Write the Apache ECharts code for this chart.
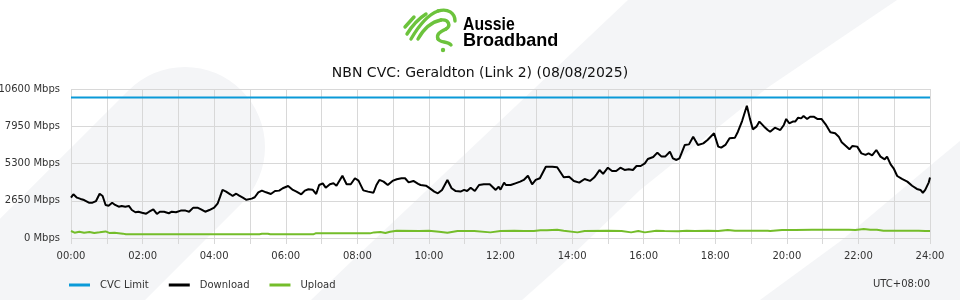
<!DOCTYPE html>
<html>
<head>
<meta charset="utf-8">
<script src="https://cdn.jsdelivr.net/npm/echarts@6/dist/echarts.min.js"></script>
<style>
html,body{margin:0;padding:0;background:#fff;}
#chart{width:960px;height:300px;}
</style>
</head>
<body>
<div id="chart"></div>
<script>
// ---- data (minutes after midnight, Mbps) ----
var titleText = 'NBN CVC: Geraldton (Link 2) (08/08/2025)';
var seriesNames = ['CVC Limit', 'Download', 'Upload'];
var xTickLabels = ['00:00','02:00','04:00','06:00','08:00','10:00','12:00','14:00','16:00','18:00','20:00','22:00','24:00'];
var yMax = 10600;
var yStep = 2650;
var cvcLimit = [[0, 10000], [1440, 10000]];
var download = [
 [0,2870],[4,3110],[10,2870],[16,2780],[22,2700],[30,2510],[36,2510],[42,2630],[48,3150],[53,2990],[58,2350],
 [63,2300],[69,2510],[74,2350],[80,2230],[85,2280],[91,2230],[97,2280],[102,1990],[108,1830],[113,1870],[119,1800],
 [126,1730],[131,1870],[138,2040],[144,1710],[149,1870],[156,1870],[164,1760],[169,1870],[176,1830],[184,1950],
 [192,1950],[198,1870],[205,2160],[212,2160],[218,2040],[225,1870],[232,1990],[240,2160],[246,2470],[250,2940],
 [254,3420],[260,3300],[267,3110],[271,2990],[277,3150],[282,3010],[288,2870],[294,2720],[303,2800],[308,2900],
 [314,3250],[320,3370],[327,3250],[335,3130],[342,3340],[349,3370],[355,3540],[364,3700],[372,3420],[378,3300],
 [386,3110],[392,3370],[398,3470],[405,3440],[411,3130],[416,3770],[422,3890],[427,3580],[434,3820],[440,3890],
 [445,3720],[455,4430],[462,3820],[469,3820],[476,4250],[482,4080],[490,3390],[498,3300],[507,3220],[512,3770],
 [517,4130],[524,4010],[531,3770],[539,4060],[546,4180],[554,4250],[560,4250],[566,3960],[574,4060],[582,3850],
 [586,3770],[595,3720],[600,3580],[609,3300],[615,3180],[622,3420],[631,4130],[638,3540],[645,3340],[653,3300],
 [659,3420],[664,3340],[670,3580],[677,3340],[684,3770],[692,3820],[702,3820],[712,3420],[717,3650],[720,3440],
 [726,3940],[729,3770],[737,3770],[745,3890],[753,4010],[759,4130],[766,4430],[773,3820],[779,4130],[786,4250],
 [796,5070],[807,5070],[815,5030],[826,4320],[835,4360],[843,4060],[852,3940],[861,4200],[870,4060],[877,4300],
 [881,4530],[886,4840],[892,4560],[900,5000],[907,4770],[914,4770],[921,5000],[928,4840],[935,4890],[942,4840],
 [948,5120],[955,5120],[962,5310],[967,5620],[976,5760],[983,6070],[990,5790],[996,5790],[1004,6140],[1009,5670],
 [1015,5550],[1020,5670],[1029,6620],[1036,6660],[1043,7210],[1051,6620],[1060,6730],[1067,6970],[1078,7450],
 [1085,6500],[1090,6430],[1097,6620],[1104,7090],[1113,7140],[1118,7560],[1125,8320],[1133,9410],[1138,8510],
 [1143,7730],[1149,7920],[1154,8280],[1162,7920],[1168,7680],[1172,7560],[1180,7850],[1183,7920],[1189,7680],
 [1195,8040],[1199,8470],[1204,8160],[1210,8280],[1214,8280],[1219,8560],[1224,8510],[1228,8680],[1234,8470],
 [1239,8630],[1245,8630],[1251,8470],[1258,8470],[1265,8090],[1273,7520],[1281,7450],[1287,7210],[1292,6810],
 [1299,6550],[1305,6310],[1310,6550],[1318,6500],[1325,6020],[1332,5910],[1337,6020],[1343,5880],[1350,6260],
 [1357,5790],[1364,5600],[1368,5790],[1374,5240],[1379,4960],[1385,4410],[1393,4200],[1402,4010],[1410,3720],
 [1418,3490],[1424,3420],[1428,3220],[1432,3420],[1438,3960],[1440,4300]
];
var upload = [
 [0,500],[6,380],[14,450],[22,380],[31,430],[39,360],[48,410],[58,470],[64,360],[73,380],[87,310],[92,260],
 [131,260],[134,300],[138,260],[316,260],[320,300],[330,300],[334,260],[406,260],[410,330],[501,330],[508,400],
 [519,420],[527,360],[535,450],[546,520],[584,500],[600,520],[617,450],[631,380],[648,500],[676,500],[703,400],
 [720,500],[743,520],[759,500],[776,500],[787,545],[798,545],[815,590],[826,520],[849,400],[861,500],[900,520],
 [923,500],[939,400],[951,500],[962,400],[981,520],[995,500],[1018,480],[1032,520],[1046,500],[1068,520],[1085,500],
 [1101,570],[1113,520],[1168,520],[1172,500],[1192,570],[1214,570],[1242,590],[1270,590],[1304,590],[1315,570],
 [1329,640],[1340,590],[1351,590],[1362,520],[1382,520],[1421,520],[1432,500],[1440,500]
];
var timezoneText = 'UTC+08:00';
var logoWords = ['Aussie', 'Broadband'];

// ---- chart ----
var bandColor = '#f4f5f7';
var logoGreen = '#6cc33c';
var chart = echarts.init(document.getElementById('chart'), null, {renderer: 'canvas'});
var font = 'DejaVu Sans';
function curve(x1, y1, cx1, cy1, cx2, cy2, x2, y2) {
  return {type: 'bezierCurve', z: 10, silent: true,
    shape: {x1: x1, y1: y1, cpx1: cx1, cpy1: cy1, cpx2: cx2, cpy2: cy2, x2: x2, y2: y2},
    style: {stroke: logoGreen, lineWidth: 3.4, lineCap: 'round', fill: null}};
}
chart.setOption({
  backgroundColor: '#ffffff',
  animation: false,
  textStyle: {fontFamily: font},
  title: {
    text: titleText, left: 'center', top: 61,
    textStyle: {fontFamily: font, fontSize: 14, fontWeight: 'normal', color: '#111'}
  },
  legend: {
    left: 64, top: 275, itemWidth: 21, itemHeight: 3, itemGap: 20, icon: 'rect',
    textStyle: {fontFamily: font, fontSize: 10, color: '#333', padding: [0, 0, 0, 5]},
    data: seriesNames
  },
  grid: {left: 71, right: 30, top: 89, bottom: 62, containLabel: false, outerBoundsMode: 'none'},
  xAxis: {
    type: 'value', min: 0, max: 1440, interval: 60,
    axisLine: {show: false},
    axisTick: {show: true, length: 6, lineStyle: {color: '#d8d8d8'}},
    splitLine: {show: true, lineStyle: {color: '#d8d8d8', width: 1}},
    axisLabel: {
      fontFamily: font, fontSize: 10, color: '#333', margin: 13,
      formatter: function (v) { return v % 120 === 0 ? xTickLabels[v / 120] : ''; }
    }
  },
  yAxis: {
    type: 'value', min: 0, max: yMax, interval: yStep,
    axisLine: {show: false},
    axisTick: {show: false},
    splitLine: {show: true, lineStyle: {color: '#d8d8d8', width: 1}},
    axisLabel: {fontFamily: font, fontSize: 10, color: '#333', margin: 11,
      formatter: function (v) { return v + ' Mbps'; }}
  },
  graphic: [
    {type: 'line', z: -100, silent: true, shape: {x1: -200, y1: 532, x2: 185, y2: 147},
     style: {stroke: bandColor, lineWidth: 160, lineCap: 'round'}},
    {type: 'polygon', z: -100, silent: true,
     shape: {points: [[628,0],[897,0],[767,88],[640,190],[567,260],[522,300],[311,300],[353,260],[535,88]]},
     style: {fill: bandColor}},
    {type: 'polygon', z: -100, silent: true,
     shape: {points: [[960,141],[937,160],[842,240],[760,300],[960,300]]},
     style: {fill: bandColor}},
    {type: 'line', z: 10, silent: true, shape: {x1: 405, y1: 27, x2: 414, y2: 17},
     style: {stroke: logoGreen, lineWidth: 3.4, lineCap: 'round'}},
    curve(407,34, 412,26, 418,19, 426,14),
    curve(411,39, 418,27, 427,15, 438,11),
    curve(438,11, 448,8, 455,13, 455,21),
    curve(418,39, 423,30, 431,22, 441,20),
    curve(441,20, 449,19, 451,26, 446,29),
    curve(446,29, 440,32, 436,34, 438,39),
    curve(438,39, 440,43, 448,41, 451,45),
    {type: 'circle', z: 10, silent: true, shape: {cx: 443, cy: 50, r: 2.2}, style: {fill: logoGreen}},
    {type: 'text', z: 10, silent: true, x: 463, y: 25, scaleX: 0.83,
     style: {text: logoWords[0], font: 'bold 19px "Liberation Sans"', fill: '#000', verticalAlign: 'middle', align: 'left'}},
    {type: 'text', z: 10, silent: true, x: 463, y: 41, scaleX: 0.95,
     style: {text: logoWords[1], font: 'bold 19px "Liberation Sans"', fill: '#000', verticalAlign: 'middle', align: 'left'}},
    {type: 'text', z: 10, silent: true, x: 930, y: 284,
     style: {text: timezoneText, font: '10px "DejaVu Sans"', fill: '#333', align: 'right', verticalAlign: 'middle'}}
  ],
  series: [
    {name: seriesNames[0], type: 'line', data: cvcLimit, showSymbol: false, symbol: 'none',
     lineStyle: {color: '#0a9ad8', width: 2}, itemStyle: {color: '#0a9ad8'}},
    {name: seriesNames[1], type: 'line', data: download, showSymbol: false, symbol: 'none',
     lineStyle: {color: '#000', width: 2}, itemStyle: {color: '#000'}},
    {name: seriesNames[2], type: 'line', data: upload, showSymbol: false, symbol: 'none',
     lineStyle: {color: '#74bd2a', width: 2}, itemStyle: {color: '#74bd2a'}}
  ]
});
</script>
</body>
</html>
